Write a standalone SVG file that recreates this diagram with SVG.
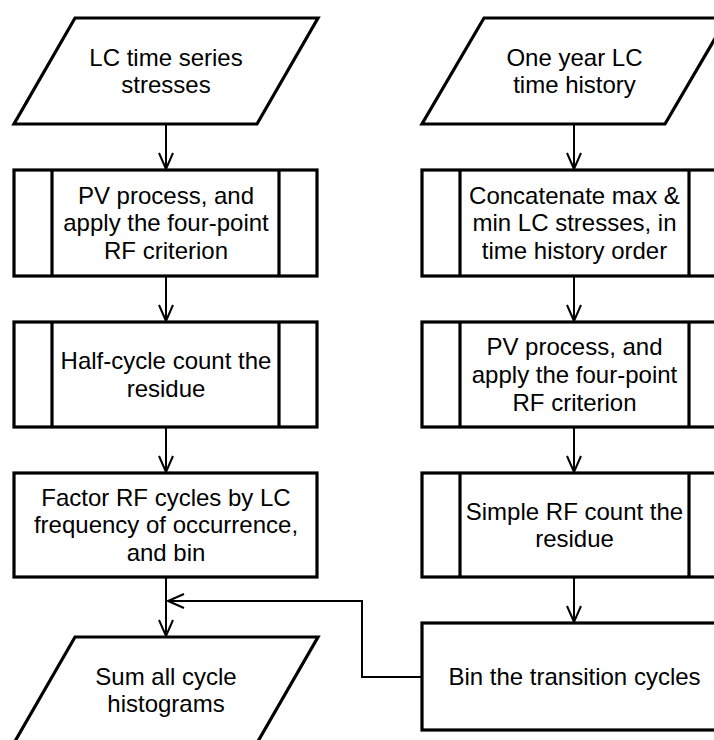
<svg xmlns="http://www.w3.org/2000/svg" width="714" height="740" viewBox="0 0 714 740">
<defs>
<style>
.shape{fill:#fff;stroke:#000;stroke-width:3.2;stroke-linejoin:miter}
.inner{fill:none;stroke:#000;stroke-width:3.2}
.conn{fill:none;stroke:#000;stroke-width:2}
text{font-family:"Liberation Sans",Arial,sans-serif;font-size:24px;fill:#000;text-anchor:middle}
</style>
<marker id="arr" viewBox="0 0 20 16" refX="18" refY="8" markerWidth="20" markerHeight="16" orient="auto" markerUnits="userSpaceOnUse">
<path d="M2,1 L18,8 L2,15" fill="none" stroke="#000" stroke-width="2"/>
</marker>
</defs>
<rect x="0" y="0" width="714" height="740" fill="#fff"/>

<g id="connectors">
<line class="conn" x1="166" y1="124" x2="166" y2="169" marker-end="url(#arr)"/>
<line class="conn" x1="166" y1="276" x2="166" y2="321" marker-end="url(#arr)"/>
<line class="conn" x1="166" y1="427" x2="166" y2="472" marker-end="url(#arr)"/>
<line class="conn" x1="166" y1="577" x2="166" y2="636" marker-end="url(#arr)"/>
<line class="conn" x1="574" y1="124" x2="574" y2="169" marker-end="url(#arr)"/>
<line class="conn" x1="574" y1="276" x2="574" y2="321" marker-end="url(#arr)"/>
<line class="conn" x1="574" y1="427" x2="574" y2="472" marker-end="url(#arr)"/>
<line class="conn" x1="574" y1="577" x2="574" y2="622" marker-end="url(#arr)"/>
<polyline class="conn" points="422,677 362,677 362,601 168,601" marker-end="url(#arr)"/>
</g>

<g id="n-lc-series">
<polygon class="shape" points="75,18 318,18 257,124 14,124"/>
<text x="166" y="65.6">LC time series</text>
<text x="166" y="93.2">stresses</text>
</g>

<g id="n-pv-left">
<rect class="shape" x="14" y="170" width="303" height="106"/>
<line class="inner" x1="52" y1="170" x2="52" y2="276"/>
<line class="inner" x1="279" y1="170" x2="279" y2="276"/>
<text x="166" y="203.8">PV process, and</text>
<text x="166" y="231.4">apply the four-point</text>
<text x="166" y="259">RF criterion</text>
</g>

<g id="n-halfcycle">
<rect class="shape" x="14" y="322" width="303" height="105"/>
<line class="inner" x1="52" y1="322" x2="52" y2="427"/>
<line class="inner" x1="279" y1="322" x2="279" y2="427"/>
<text x="166" y="369.1">Half-cycle count the</text>
<text x="166" y="396.7">residue</text>
</g>

<g id="n-factor">
<rect class="shape" x="14" y="473" width="303" height="104"/>
<text x="166" y="505.8">Factor RF cycles by LC</text>
<text x="166" y="533.4">frequency of occurrence,</text>
<text x="166" y="561">and bin</text>
</g>

<g id="n-sum">
<polygon class="shape" points="75,637 318,637 257,743 14,743"/>
<text x="166" y="684.6">Sum all cycle</text>
<text x="166" y="712.2">histograms</text>
</g>

<g id="n-oneyear">
<polygon class="shape" points="484,18 727,18 665,124 422,124"/>
<text x="574.5" y="65.6">One year LC</text>
<text x="574.5" y="93.2">time history</text>
</g>

<g id="n-concat">
<rect class="shape" x="422" y="170" width="305" height="106"/>
<line class="inner" x1="460" y1="170" x2="460" y2="276"/>
<line class="inner" x1="689" y1="170" x2="689" y2="276"/>
<text x="574.5" y="203.8">Concatenate max &amp;</text>
<text x="574.5" y="231.4">min LC stresses, in</text>
<text x="574.5" y="259">time history order</text>
</g>

<g id="n-pv-right">
<rect class="shape" x="422" y="322" width="305" height="105"/>
<line class="inner" x1="460" y1="322" x2="460" y2="427"/>
<line class="inner" x1="689" y1="322" x2="689" y2="427"/>
<text x="574.5" y="355.3">PV process, and</text>
<text x="574.5" y="382.9">apply the four-point</text>
<text x="574.5" y="410.5">RF criterion</text>
</g>

<g id="n-simple">
<rect class="shape" x="422" y="473" width="305" height="104"/>
<line class="inner" x1="460" y1="473" x2="460" y2="577"/>
<line class="inner" x1="689" y1="473" x2="689" y2="577"/>
<text x="574.5" y="519.6">Simple RF count the</text>
<text x="574.5" y="547.2">residue</text>
</g>

<g id="n-bin">
<rect class="shape" x="422" y="623" width="305" height="107"/>
<text x="574.5" y="684.9">Bin the transition cycles</text>
</g>
</svg>
